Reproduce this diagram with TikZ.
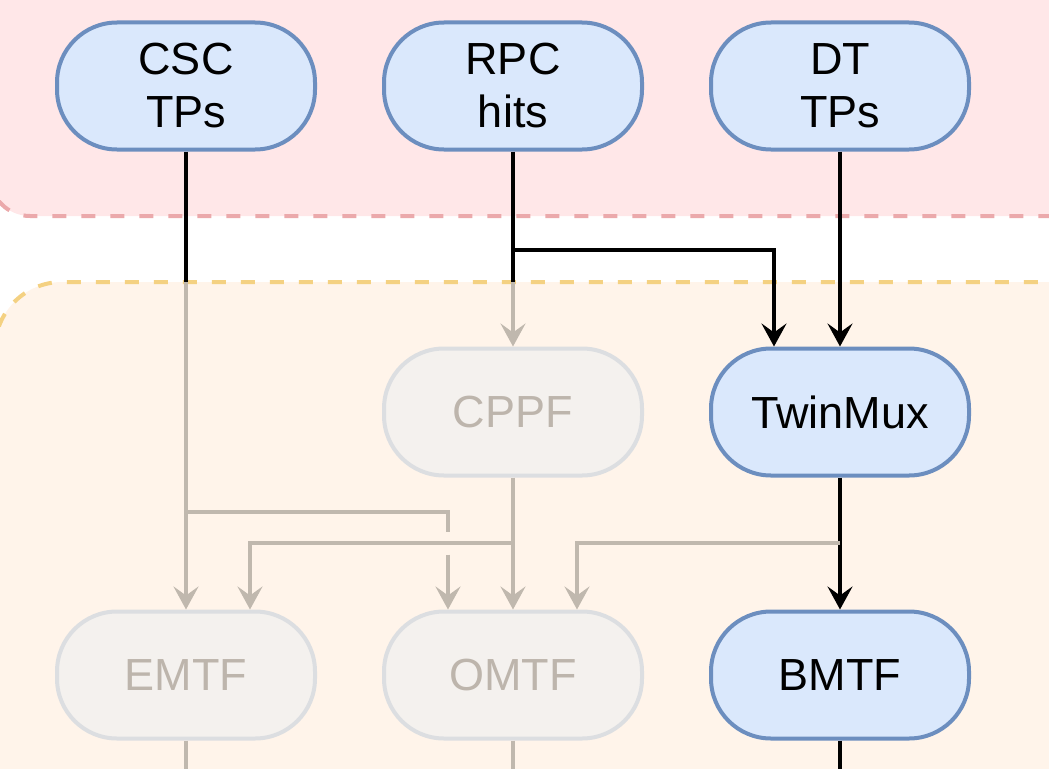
\documentclass[tikz,border=0pt]{standalone}
\usepackage{fontspec}
\setmainfont{Liberation Sans}
\usepackage{xcolor}
\usepackage{tikz}
\usetikzlibrary{calc}
\usetikzlibrary{positioning, arrows.meta}
\definecolor{triggerFill}{HTML}{DAE8FC}
\definecolor{triggerLine}{HTML}{6C8EBF}
\definecolor{fadedFill}{HTML}{F4F1EE}
\definecolor{fadedBorder}{HTML}{DCDEE1}
\definecolor{fadedText}{HTML}{BDB5AC}
\definecolor{fadedWire}{HTML}{C0B8AE}
\definecolor{inputFill}{HTML}{FFE7E8}
\definecolor{inputLine}{HTML}{EBA9AB}
\definecolor{regionFill}{HTML}{FFF4EA}
\definecolor{regionLine}{HTML}{F4D182}
\tikzstyle{board} = [rectangle, rounded corners=30pt, 
minimum width=129pt, 
minimum height=63.5pt, 
text centered, align=center, 
line width=2pt, 
font=\fontsize{22.5}{26.5}\selectfont]
\tikzstyle{live} = [board, draw=triggerLine, fill=triggerFill, text=black]
\tikzstyle{faded} = [board, draw=fadedBorder, fill=fadedFill, text=fadedText]
\tikzstyle{band} = [line width=2pt, dash pattern=on 7pt off 7.5pt]
\tikzstyle{wire} = [line width=2pt]
\tikzstyle{arrow} = [wire, -{Stealth[length=11.5pt, width=12.5pt, inset=4.5pt]}]
\tikzstyle{dimwire} = [wire, draw=fadedWire]
\tikzstyle{dimarrow} = [arrow, draw=fadedWire]

\begin{document}
\begin{tikzpicture}[x=0.5pt, y=0.5pt]
			\useasboundingbox (0,0) rectangle (1049,768);
			\clip (0,0) rectangle (1049,768);
			
			% regions behind the boards
			\draw [band, draw=inputLine, fill=inputFill, rounded corners=20pt] (-10,552) rectangle (1120,840);
			\draw [band, draw=regionLine, fill=regionFill, rounded corners=33.5pt] (-5,-60) rectangle (1120,486);
			\coordinate (regionTop) at (0,486);
			
			\node (csc)[live] at (186,682) {CSC\\TPs};
			\node (rpc)[live, right=32.5pt of csc] {RPC\\hits};
			\node (dt)[live, right=32.5pt of rpc] {DT\\TPs};
			
			\node (cppf)[faded, below=97.5pt of rpc] {CPPF};
			\node (twinmux)[live, below=97.5pt of dt] {TwinMux};
			
			\node (emtf)[faded, below=66pt of csc |- cppf.south, anchor=north] {EMTF};
			\node (omtf)[faded, below=66pt of cppf] {OMTF};
			\node (bmtf)[live, below=66pt of twinmux] {BMTF};
			
			\coordinate (rpcSplit) at (0,518);
			\coordinate (cscSplit) at (0,256);
			\coordinate (lowSplit) at (0,225);
			
			\draw [wire] (csc) -- (csc |- regionTop);
			\draw [dimarrow] (csc |- regionTop) -- (emtf);
			\draw [dimwire] (csc |- cscSplit) -| ($(omtf.north)+(-65,78)$);
			\draw [dimarrow] ($(omtf.north)+(-65,55)$) -- ($(omtf.north)+(-65,0)$);
			
			\draw [wire] (rpc) -- (rpc |- regionTop);
			\draw [dimarrow] (rpc |- regionTop) -- (cppf);
			\draw [arrow] (rpc |- rpcSplit) -| ($(twinmux.north)+(-66,0)$);
			
			\draw [arrow] (dt) -- (twinmux);
			
			\draw [dimarrow] (cppf) -- (omtf);
			\draw [dimarrow] (cppf |- lowSplit) -| ($(emtf.north)+(64,0)$);
			
			\draw [arrow] (twinmux) -- (bmtf);
			\draw [dimarrow] (twinmux |- lowSplit) -| ($(omtf.north)+(64,0)$);
			
			\draw [dimwire] (emtf) -- (emtf |- 0,-10);
			\draw [dimwire] (omtf) -- (omtf |- 0,-10);
			\draw [wire] (bmtf) -- (bmtf |- 0,-10);
		\end{tikzpicture}
\end{document}
